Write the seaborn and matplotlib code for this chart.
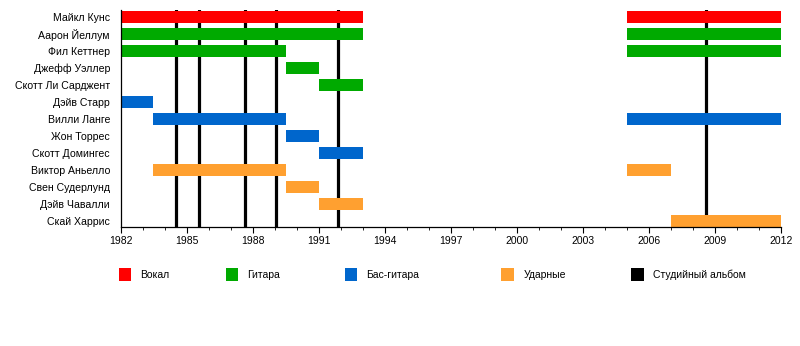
import matplotlib
matplotlib.use("Agg")
import matplotlib.pyplot as plt
from matplotlib.patches import Rectangle
import seaborn as sns

# Band members, top to bottom
members = [
    "Майкл Кунс", "Аарон Йеллум", "Фил Кеттнер", "Джефф Уэллер",
    "Скотт Ли Сарджент", "Дэйв Старр", "Вилли Ланге", "Жон Торрес",
    "Скотт Домингес", "Виктор Аньелло", "Свен Судерлунд", "Дэйв Чавалли",
    "Скай Харрис",
]

# Membership periods: who, from, to, role
span_member = [
    "Майкл Кунс", "Майкл Кунс",
    "Аарон Йеллум", "Аарон Йеллум",
    "Фил Кеттнер", "Фил Кеттнер",
    "Джефф Уэллер",
    "Скотт Ли Сарджент",
    "Дэйв Старр",
    "Вилли Ланге", "Вилли Ланге",
    "Жон Торрес",
    "Скотт Домингес",
    "Виктор Аньелло", "Виктор Аньелло",
    "Свен Судерлунд",
    "Дэйв Чавалли",
    "Скай Харрис",
]
span_start = [1982, 2005, 1982, 2005, 1982, 2005, 1989.5, 1991, 1982, 1983.45, 2005,
              1989.5, 1991, 1983.45, 2005, 1989.5, 1991, 2007]
span_end = [1993, 2012, 1993, 2012, 1989.5, 2012, 1991, 1993, 1983.45, 1989.5, 2012,
            1991, 1993, 1989.5, 2007, 1991, 1993, 2012]
span_role = ["Вокал", "Вокал", "Гитара", "Гитара", "Гитара", "Гитара", "Гитара", "Гитара",
             "Бас-гитара", "Бас-гитара", "Бас-гитара", "Бас-гитара", "Бас-гитара",
             "Ударные", "Ударные", "Ударные", "Ударные", "Ударные"]

# Studio album release dates
album_years = [1984.5, 1985.55, 1987.65, 1989.05, 1991.88, 2008.6]

legend_labels = ["Вокал", "Гитара", "Бас-гитара", "Ударные", "Студийный альбом"]
role_colors = {
    "Вокал": "#ff0000",
    "Гитара": "#00aa00",
    "Бас-гитара": "#0066cc",
    "Ударные": "#ffa030",
    "Студийный альбом": "#000000",
}

sns.set_theme(style="ticks")
plt.rcParams["font.family"] = ["Liberation Sans", "DejaVu Sans"]

fig = plt.figure(figsize=(8, 3.46), dpi=100)
ax = fig.add_axes([0.15125, 0.3448, 0.825, 0.6263])

row = {name: i for i, name in enumerate(members)}

for x in album_years:
    ax.axvline(x, color="black", lw=2.3, zorder=1)

for m, s, e, r in zip(span_member, span_start, span_end, span_role):
    ax.barh(row[m], e - s, left=s, height=0.68, color=role_colors[r],
            edgecolor="none", zorder=2)

ax.set_xlim(1982, 2012)
ax.set_ylim(len(members) - 1 + 0.33, -0.4)
ax.set_xticks(range(1982, 2013, 3))
ax.set_xticks(range(1982, 2013, 1), minor=True)
ax.set_yticks(range(len(members)))
ax.set_yticklabels(members)

ax.tick_params(axis="x", which="major", length=4, width=0.8, color="black",
               labelsize=7.5, labelcolor="black", pad=3, direction="out")
ax.tick_params(axis="x", which="minor", length=2.5, width=0.6, color="black",
               direction="out")
ax.tick_params(axis="y", length=0, labelsize=7.6, labelcolor="black", pad=8)

for side in ("top", "right"):
    ax.spines[side].set_visible(False)
for side in ("left", "bottom"):
    ax.spines[side].set_color("black")
    ax.spines[side].set_linewidth(0.9)

ax.grid(False)
ax.set_xlabel("")
ax.set_ylabel("")

# Legend row below the axis
W, H = 800.0, 346.0
legend_x = [118.5, 225.5, 344.5, 501.5, 631]
for lx, lab in zip(legend_x, legend_labels):
    fig.patches.append(Rectangle((lx / W, 1 - 281 / H), 12.5 / W, 13 / H,
                                 transform=fig.transFigure,
                                 facecolor=role_colors[lab], edgecolor="none"))
    fig.text((lx + 22) / W, 1 - 275 / H, lab, fontsize=7.5, va="center",
             ha="left", color="black")

fig.savefig("out.png", dpi=100)
